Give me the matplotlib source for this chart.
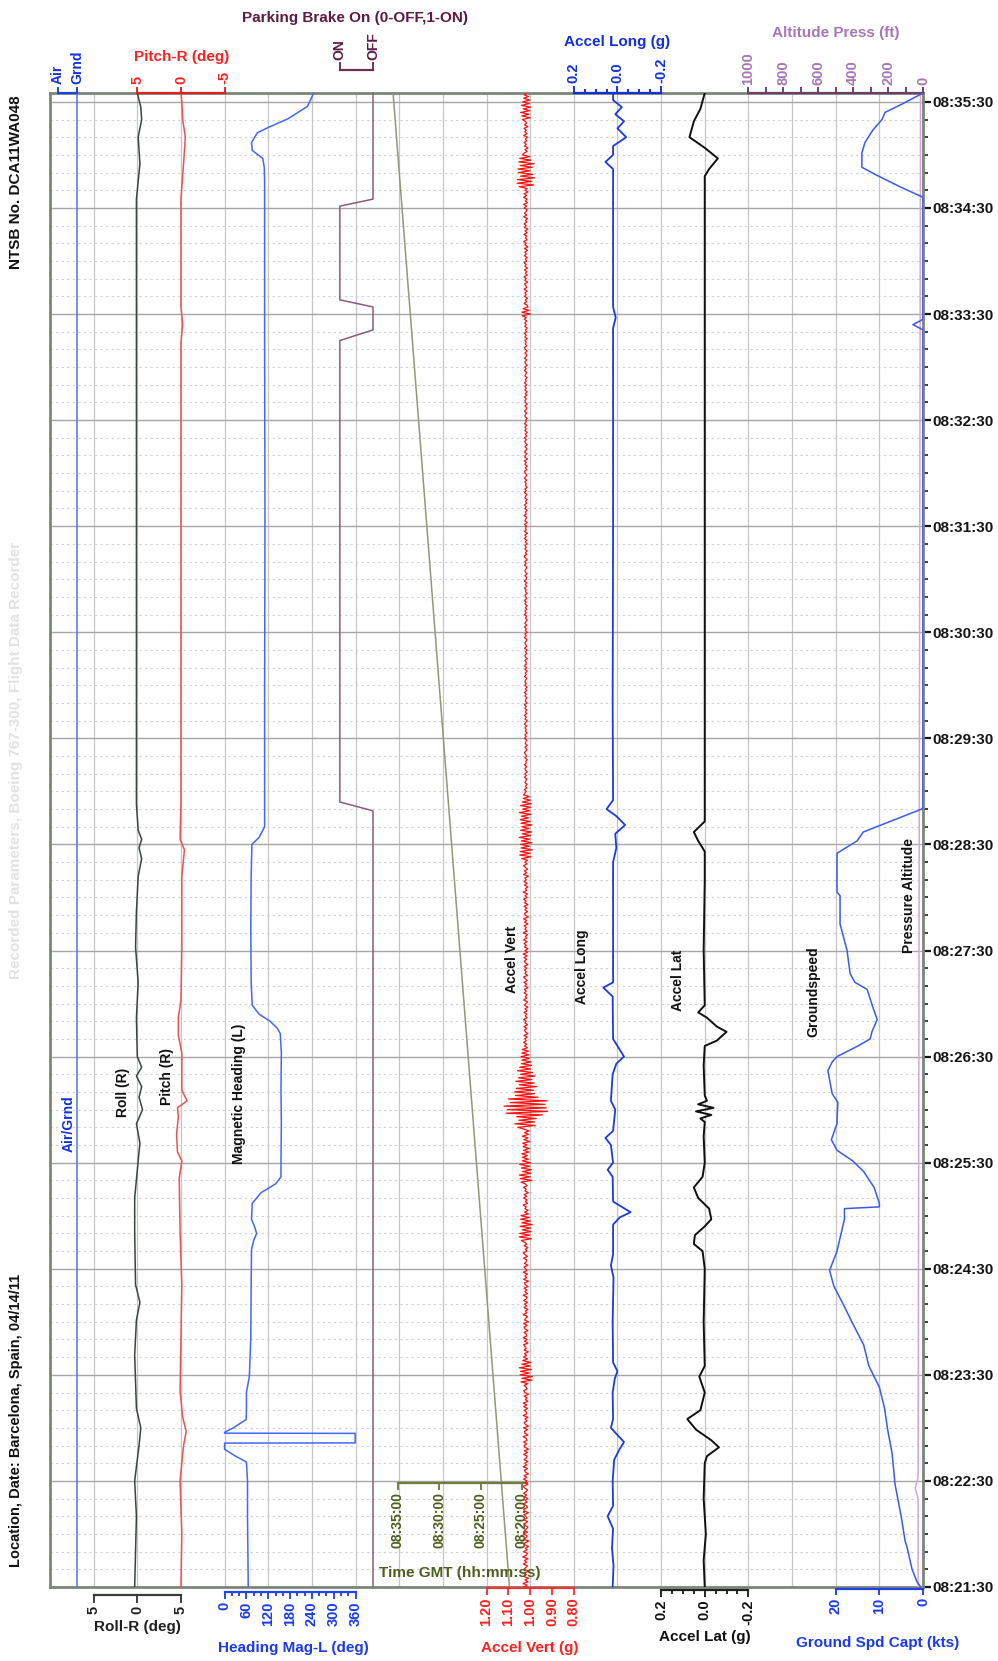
import numpy as np
import matplotlib
matplotlib.use("Agg")
import matplotlib.pyplot as plt

plt.rcParams['font.family'] = ['Liberation Sans', 'DejaVu Sans']
plt.rcParams['font.weight'] = 'bold'

# ---------------------------------------------------------------- data
# time in seconds after 08:21:30 (bottom of plot); top of plot ~08:35:35
T_END = 845
TIME_LABEL_T = [0, 60, 120, 180, 240, 300, 360, 420, 480, 540, 600, 660, 720, 780, 840]
TIME_LABELS = ['08:21:30', '08:22:30', '08:23:30', '08:24:30', '08:25:30', '08:26:30',
               '08:27:30', '08:28:30', '08:29:30', '08:30:30', '08:31:30', '08:32:30',
               '08:33:30', '08:34:30', '08:35:30']

AIRGND_T = [0, 845]
AIRGND = [1, 1]                       # 0 = Air, 1 = Grnd

ROLL_T = [0, 20, 40, 60, 80, 90, 101, 131, 151, 161, 171, 201, 220, 241, 251, 262, 270, 277,
          283, 289, 294, 300, 322, 342, 362, 382, 402, 412, 418, 423, 428, 443, 503, 604, 704,
          785, 805, 820, 830, 837, 845]
ROLL = [-0.3, -0.2, -0.1, -0.3, 0.2, 0.4, -0.1, -0.3, -0.1, 0.3, -0.2, -0.3, -0.3, 0.1, 0.3,
        -0.1, 0.6, 0.2, 0.5, -0.1, 0.5, 0.0, -0.1, 0.1, -0.2, -0.1, 0.1, 0.5, 0.2, 0.5, 0.1,
        -0.1, -0.1, -0.1, -0.1, -0.1, 0.3, 0.1, 0.5, 0.4, 0.0]

PITCH_T = [0, 30, 60, 80, 88, 96, 111, 141, 171, 201, 231, 241, 246, 256, 266, 271, 275, 281,
           302, 312, 322, 332, 362, 402, 417, 423, 443, 503, 604, 704, 714, 724, 785, 805, 820,
           830, 840, 845]
PITCH = [0.0, -0.1, 0.1, -0.3, -0.6, -0.2, 0.1, 0.0, -0.1, 0.1, 0.2, -0.1, 0.4, 0.5, 0.3, 0.4,
         -0.7, -0.1, -0.1, 0.3, 0.3, 0.0, -0.1, -0.1, -0.4, 0.1, 0.0, 0.0, 0.0, 0.0, -0.2, 0.0,
         0.0, -0.3, -0.5, -0.2, -0.1, 0.0]

HEADING_T = [0, 20, 40, 60, 70.7, 74, 77.9, 81.4, 81.5, 86.9, 87, 87.5, 89.9, 94.7, 100, 110,
             119, 141, 171, 191, 196, 200, 204, 208, 217, 223, 228, 232, 241, 262, 282, 302,
             313, 316, 320, 324, 329, 342, 372, 402, 420, 424, 430, 503, 604, 704, 795, 803,
             808, 812.5, 817, 822.5, 825.5, 830.5, 837.5, 845]
HEADING = [65, 64, 63, 63, 60, 30, 0, 0, 359, 359, 0, 0, 23, 59, 60, 60,
           68, 72, 73, 74, 80, 88, 82, 74, 76, 100, 140, 155, 155, 156, 155, 156,
           153, 145, 125, 95, 76, 73, 72, 73, 75, 95, 110, 110, 111, 110, 110, 109,
           105, 76, 74, 90, 120, 175, 228, 245]

BRAKE_T = [0, 439, 444, 705, 711, 724, 728, 781, 785, 845]
BRAKE = [0, 0, 1, 1, 0, 0, 1, 1, 0, 0]   # 0 = OFF, 1 = ON

CLOCK_T = [0, 845]
CLOCK = [30090, 30935]                # seconds of day (08:21:30 .. 08:35:35)
TIME_BAR_TICKS = [30900, 30600, 30300, 30000]
TIME_BAR_LABELS = ['08:35:00', '08:30:00', '08:25:00', '08:20:00']

# vertical acceleration: deviation from 1.02 g in counts of 0.002 g, one sample per second
ACCEL_VERT_BASE = 1.02
ACCEL_VERT_COUNT = 0.002
ACCEL_VERT_DEV = [
    4, -3, 6, -5, 2, -6, 5, -1, 3, -7, 4, 0, -4, 6, -2, 3, -5, 7, -1, -4,
    5, -3, 1, -6, 4, 2, -7, 5, -1, -3, 6, -4, 3, -2, -5, 4, 1, -4, 5, -3,
    0, 4, -6, 3, 5, -4, -1, 6, -3, 2, -5, 4, -2, 5, -1, -4, 3, 6, -5, 2,
    -3, 5, -2, 4, -6, 1, 3, -4, 6, -2, 2, -5, 4, -1, -3, 5, -4, 3, -6, 2,
    4, -2, 5, -3, -1, 6, -5, 2, 3, -4, 5, -6, 1, 4, -3, 2, -5, 6, -2, -1,
    3, -4, 5, -2, 6, -5, 1, -3, 4, -6, 2, 5, -3, -1, 4, -5,
    11, -14, 9, -15, 13, -8, 12, -13, 15, -10, 9, -12, 7,
    -4, 5, -2, 3, -6, 4, -1, 2, 5, -5, 3, -3, 6, -2, -1, 4, -5, 2, 4, -3,
    5, -6, 3, 0, -4, 6, -2, 1, -5, 4, -2, 3, -4, 5, -1, -3, 6, -4, 2, -2,
    4, -5, 1, 3, -6, 5, -2, 2, -4, 6, -3, 1, 4, -5, 3, -1, -2, 5, -4, 2, 6, -3, 1, -5, 4, -2, 3,
    10, -13, 15, -9, 14, -12, 8, -11, 13, -15, 9, -10, 12, -8, 11, -6,
    3, -5, 2, -1, 6, -4, 1, -3, 5, -2, 4, -6, 2, -1, 5, -3, 1,
    11, -14, 13, -10, 15, -12, 7, -13, 10, -9, 14, -11, 8,
    -6, 8, -4, 9, -7, 5, -8, 6, -3, 7, -9, 4, -5, 8, -6, 3, -7, 5,
    18, -22, 25, -20, 16, -24, 21,
    -38, 45, -50, 42, -47, 50, -44, 36, -49, 40,
    -28, 24, -20, 26, -18, 22, -25, 15, -19, 23, -14, 17, -21, 12, -16, 19, -11, 14, -13, 10,
    -12, 9, -8, 11, -7, 9, -6, 8,
    -4, 3, -2, 5, -1, 2, -3, 4, -5, 1, 3, -2, 4, -4, 2, -1, 5, -3, 1, -2,
    4, -3, 2, -5, 3, 0, -4, 5, -2, 1, -3, 4, -1, 3, -5, 2, -2, 4, -3, 1,
    5, -4, 2, -1, 3, -2, 4, -5, 1, 3, -2, 4, -3, 6, -4, 2, -5, 3, -1, 4,
    -3, 5, -2, 1, -4, 6, -3, 2, -1, 4, -5, 3, -2, 5, -6, 1, 3, -4, 2, -2,
    4, -5, 3, -1, 5, -3, 2, -4, 6, -2, 1, -5, 3, -3, 4, -1, 2, -6, 5, -2, 3, -4, 1, 5, -3, 2, -4,
    9, -12, 14, -10, 13, -15, 11, -8, 12, -14, 10, -9, 15, -11, 8, -13, 12, -7, 9, -14,
    11, -10, 13, -6, 10, -12, 15, -9, 7, -11, 12, -13, 8, -10, 6, -8, 5,
    2, -1, 3, -2, 1, -3, 2, 0, -2, 3, -1, 2, -3, 1, 2, -2, 3, -1, 0, -3,
    2, -2, 1, 3, -1, -2, 2, -3, 1, 0, -2, 3, -1, 2, -3, 1, -1, 2, -2, 3,
    0, -3, 2, -1, 3, -2, 1, -2, 2, -1, 3, -3, 1, 0, -2, 2, -1, 3, -2, 1,
    -3, 2, -1, 2, 0, -2, 3, -1, 1, -3, 2, -2, 3, -1, -1, 2, -3, 1, 2, -2,
    1, -3, 3, -2, 0, 2, -1, -2, 3, -1, 2, -3, 1, -1, 3, -2, 2, 0, -3, 1,
    -2, 3, -1, 2, -2, 1, -3, 2, -1, 3, -2, 0, 2, -3, 1, -1, 3, -2, 1, -2,
    3, -1, -2, 2, -3, 1, 2, -1, -2, 3, -1, 2, -3, 1, 4, -2, 1, -3, 2, -1,
    2, -3, 1, -2, 3, -1, 2, -4, 3, -1, 1, -2, 3, -3, 2, 0, -2, 4, -1, 1,
    -3, 2, -1, 3, -2, 1, -3, 2, 0, -2, 3, -1, 2, -3, 1, -1, 2, -2, 3, 0,
    -2, 1, 3, -2, 1, -3, 2, -1, 3, -4, 2, 1, -2, 3, -1, -2, 2, -3, 1, 2,
    -1, 3, -2, 1, -3, 2, -1, 2, -2, 3, -1, 0, -3, 2, 1, -2, 3, -1, -2, 2,
    -3, 1, 2, -1, 3, -2, 1, -3, 2, -1, 2, -2, 3, -1, 1, -3, 2, 0, -2, 3,
    -1, 2, -3, 1, 2, -2, 3, -1, -2, 2, -3, 1, 3, -2, 1, -1, 2, -3, 2, -1,
    3, -2, 1, -3, 2, -1, 2, -2, 3, -1,
    8, -10, 9, -7, 6, -5,
    -3, 4, -2, 1, -4, 3, -1, 2, -3, 4, -2, 0, 3, -4, 2, -1, 4, -3, 1, -2,
    3, -4, 2, -1, 4, -2, 1, -3, 3, -1, 2, -4, 3, -5, 2, -1, 5, -3, 1, -2,
    4, -3, 2, -5, 3, -1, 4, -2, 1, -4, 5, -2, 3, -1, -3, 4, -2, 5, -4, 1,
    -3, 5, -2, 4, -5, 2, -3,
    15, -18, 20, -14, 19, -20, 12, -16, 17, -10, 18, -15, 13, -19, 16, -12, 14, -9, 8,
    4, -3, 2, -5, 3, -1, 4, -2, 1, -4, 5, -3, 2, -1, 4, -5, 3, -2, 1,
    8, -10, 9, -7, 12, -9, 6, -11, 10, -8, 7, -9, 5, -6, 4, -2]

ACCEL_LONG_T = [0, 12, 22, 33, 40, 46, 60, 72, 78, 82, 86, 90, 95, 110, 118, 122, 127, 150, 175,
                182, 188, 205, 209, 212, 215, 218, 232, 236, 240, 250, 254, 258, 270, 275, 290,
                296, 300, 304, 310, 334, 339, 342, 380, 410, 418, 426, 431, 436, 440, 445, 500,
                600, 712, 718, 724, 790, 802, 806, 810, 815, 820, 825, 829, 833, 837, 841, 845]
ACCEL_LONG = [0.022, 0.018, 0.025, 0.020, 0.045, 0.020, 0.022, 0.015, -0.010, -0.030, 0.000,
              0.030, 0.020, 0.022, 0.012, 0.000, 0.020, 0.022, 0.018, 0.030, 0.020, 0.020,
              -0.010, -0.060, -0.020, 0.020, 0.022, 0.045, 0.020, 0.030, 0.055, 0.020, 0.010,
              0.030, 0.022, 0.005, -0.030, -0.010, 0.020, 0.022, 0.065, 0.020, 0.020, 0.020,
              0.005, 0.010, -0.035, 0.005, 0.050, 0.020, 0.022, 0.020, 0.020, 0.008, 0.020,
              0.020, 0.020, 0.055, 0.020, 0.020, -0.040, 0.000, -0.030, 0.010, -0.020, 0.020,
              0.020]

ACCEL_LAT_T = [0, 15, 30, 50, 70, 74, 79, 83, 89, 95, 100, 110, 119, 125, 150, 180, 190, 194,
               199, 204, 208, 214, 220, 226, 232, 240, 255, 263, 265, 267, 269, 271, 273, 275,
               278, 295, 306, 309, 314, 317, 322, 325, 329, 360, 400, 416, 422, 427, 433, 500,
               600, 700, 798, 802, 808, 814, 820, 829, 836, 845]
ACCEL_LAT = [0.000, 0.005, -0.005, 0.005, 0.000, -0.010, -0.065, -0.030, 0.040, 0.080, 0.020,
             0.000, 0.025, 0.000, 0.005, 0.000, 0.010, 0.050, 0.045, 0.000, -0.030, -0.020,
             0.030, 0.050, 0.010, 0.000, 0.005, 0.000, 0.020, -0.030, 0.040, -0.040, 0.030,
             -0.010, 0.000, 0.005, 0.000, -0.055, -0.100, -0.055, -0.010, 0.030, 0.000, 0.005,
             0.000, 0.000, 0.030, 0.050, 0.000, 0.000, 0.000, 0.000, 0.000, -0.020, -0.060,
             0.000, 0.070, 0.050, 0.020, 0.000]

GS_T = [0, 3, 10, 23, 26, 40, 58, 76, 89, 101, 113, 125, 137, 149, 161, 170, 179, 190, 208, 214,
        215, 217, 226, 235, 241, 247, 253, 262, 264, 274, 279, 292, 297, 300, 306, 310, 314, 321,
        328, 338, 342, 347, 360, 375, 391, 393, 415, 422, 427, 440, 441, 711, 714, 717, 786,
        792, 799, 803, 811, 817, 824, 830, 834, 839, 845]
GS = [0.5, 1.4, 2.5, 3.7, 4.1, 5.0, 6.4, 7.1, 8.1, 8.8, 10.0, 12.4, 13.6, 16.1, 18.5, 20.4, 21.4,
      19.7, 18.0, 18.0, 10.0, 10.0, 11.2, 13.6, 16.1, 19.7, 21.0, 19.7, 19.7, 19.5, 20.8, 21.8,
      20.8, 19.7, 14.9, 12.1, 11.7, 10.5, 11.5, 12.8, 15.6, 16.7, 17.4, 19.0, 19.0, 19.7, 19.7,
      15.1, 13.7, 0.3, 0.0, 0.0, 2.3, 0.0, 0.0, 5.3, 11.0, 14.0, 14.0, 13.3, 11.5, 9.4, 8.7,
      4.6, 0.0]

ALT_T = [0, 50, 56, 62, 845]
ALT = [28, 28, 45, 28, 14]

# ---------------------------------------------------------------- figure
W, H = 998, 1661
PL, PR, PT, PB = 50, 923, 93, 1587
fig = plt.figure(figsize=(W / 100, H / 100), dpi=100)
rect = [PL / W, 1 - PB / H, (PR - PL) / W, (PB - PT) / H]

ax = fig.add_axes(rect)
ax.set_xlim(0, 20)
ax.set_ylim(0, T_END)
ax.set_xticks(np.arange(0, 21))
ax.tick_params(axis='x', length=0, labelbottom=False)
ax.yaxis.tick_right()
ax.set_yticks(TIME_LABEL_T)
ax.set_yticklabels(TIME_LABELS)
ax.set_yticks(np.arange(0, T_END + 1, 10), minor=True)
ax.tick_params(axis='y', which='major', length=6, width=1.6, pad=1, labelsize=11,
               colors='#151515', direction='out')
ax.tick_params(axis='y', which='minor', length=3.5, width=1.3, color='#303030')
ax.grid(True, axis='x', color='#C6C6C6', lw=0.9)
ax.grid(True, axis='y', which='major', color='#A6A6A6', lw=1.0)
ax.grid(True, axis='y', which='minor', color='#D0D0D0', lw=0.8, ls=(0, (2, 3)))
for s in ax.spines.values():
    s.set_color('#7B867B')
    s.set_linewidth(2)


def lim(u0, k):
    return ((0 - u0) / k, (20 - u0) / k)


def overlay(u0, k):
    a = fig.add_axes(rect)
    a.patch.set_visible(False)
    for s in a.spines.values():
        s.set_visible(False)
    a.yaxis.set_visible(False)
    a.set_ylim(0, T_END)
    a.tick_params(axis='x', bottom=False, top=False, labelbottom=False, labeltop=False)
    a.set_xlim(*lim(u0, k))
    return a


def bar(a, side, lo, hi, major, labels, color, labcolor, minor=None, pos=0.0,
        tl=5, mtl=3, lw=1.6, fs=10.5, pad=2):
    xl = a.get_xlim()
    sp = a.spines[side]
    sp.set_visible(True)
    sp.set_color(color)
    sp.set_linewidth(lw)
    sp.set_bounds(min(lo, hi), max(lo, hi))
    sp.set_position(pos if isinstance(pos, tuple) else ('outward', pos))
    a.set_xticks(major)
    a.set_xticklabels(labels, rotation=90)
    if minor is not None:
        a.set_xticks(minor, minor=True)
    top = side == 'top'
    a.tick_params(axis='x', which='both', top=top, bottom=not top, labeltop=top,
                  labelbottom=not top, direction='out', color=color, width=lw * 0.85)
    a.tick_params(axis='x', which='major', length=tl, labelsize=fs, labelcolor=labcolor, pad=pad)
    a.tick_params(axis='x', which='minor', length=mtl)
    a.set_xlim(*xl)


LW = 1.1
# Air/Grnd
a = overlay(0.18, 0.44)
a.plot(AIRGND, AIRGND_T, color='#5070F0', lw=LW)
bar(a, 'top', 0, 1, [0, 1], ['Air', 'Grnd'], '#2040E0', '#1030E0', tl=4.5, fs=10)

# Roll
a = overlay(2.0, 0.2)
a.plot(ROLL, ROLL_T, color='#3A463A', lw=LW)
bar(a, 'bottom', -5, 5, [-5, 0, 5], ['5', '0', '5'], '#3A3A3A', '#202020', pos=5.8, tl=5.5)

# Pitch
a = overlay(3.0, -0.2)
a.plot(PITCH, PITCH_T, color='#F05050', lw=LW)
bar(a, 'top', 5, -5, [5, 0, -5], ['5', '0', '-5'], '#E02020', '#FF2020', tl=4.5)

# Heading
a = overlay(4.0, 1 / 120)
a.plot(HEADING, HEADING_T, color='#4466FF', lw=LW)
bar(a, 'bottom', 0, 360, list(range(0, 361, 60)), [str(v) for v in range(0, 361, 60)],
    '#2244EE', '#1A3AF0', minor=list(range(0, 361, 20)), pos=3.6, tl=5, mtl=3)

# Parking brake
a = overlay(7.40, -0.76)
a.plot(BRAKE, BRAKE_T, color='#8E5A7A', lw=LW)
bar(a, 'top', 1, 0, [1, 0], ['ON', 'OFF'], '#6A2E55', '#5C1A44', pos=16.6, tl=5.5, fs=10)

# Time GMT
kt = 0.0031567
a = fig.add_axes(rect)
a.patch.set_visible(False)
for s in a.spines.values():
    s.set_visible(False)
a.yaxis.set_visible(False)
a.set_ylim(0, T_END)
a.set_xlim(30900 + 7.97 / kt, 30900 - 12.03 / kt)
a.plot(CLOCK, CLOCK_T, color='#8F9A76', lw=LW)
bar(a, 'bottom', 29960, 30900, TIME_BAR_TICKS, TIME_BAR_LABELS, '#6E7E3A', '#4E5E1E',
    pos=('data', 59), tl=5, fs=10)

# Accel Vert
a = overlay(16.0, -5)
av_t = np.linspace(0, T_END, len(ACCEL_VERT_DEV))
av = ACCEL_VERT_BASE + np.array(ACCEL_VERT_DEV) * ACCEL_VERT_COUNT
a.plot(av, av_t, color='#FF1010', lw=0.9)
bar(a, 'bottom', 1.2, 0.8, [1.2, 1.1, 1.0, 0.9, 0.8], ['1.20', '1.10', '1.00', '0.90', '0.80'],
    '#FF3030', '#FF2020', pos=0.7, tl=5)

# Accel Long
a = overlay(13.0, -5)
a.plot(ACCEL_LONG, ACCEL_LONG_T, color='#1A3AE8', lw=1.3)
bar(a, 'top', 0.2, -0.2, [0.2, 0.0, -0.2], ['0.2', '0.0', '-0.2'], '#1030D8', '#1030E0',
    minor=[0.15, 0.1, 0.05, -0.05, -0.1, -0.15], tl=5, mtl=3)

# Accel Lat
a = overlay(15.0, -5)
a.plot(ACCEL_LAT, ACCEL_LAT_T, color='#101010', lw=1.4)
bar(a, 'bottom', 0.2, -0.2, [0.2, 0.0, -0.2], ['0.2', '0.0', '-0.2'], '#202020', '#101010',
    minor=[0.15, 0.1, 0.05, -0.05, -0.1, -0.15], pos=2.0, tl=5, mtl=3)

# Pressure altitude
a = overlay(20.0, -0.004)
a.plot(ALT, ALT_T, color='#D6A6DA', lw=LW)
bar(a, 'top', 1000, 0, list(range(1000, -1, -200)), [str(v) for v in range(1000, -1, -200)],
    '#6E3F64', '#A676B6', minor=list(range(900, 0, -200)), tl=4, mtl=4)

# Ground speed
a = overlay(20.0, -0.1)
a.plot(GS, GS_T, color='#3A5AF0', lw=LW)
bar(a, 'bottom', 20, 0, [20, 10, 0], ['20', '10', '0'], '#2040E8', '#1A3AF0', pos=1.5, tl=4.5)

# ---------------------------------------------------------------- text
def ftxt(x, y, s, **kw):
    fig.text(x / W, 1 - y / H, s, ha='center', va='center', **kw)


ftxt(355, 18, 'Parking Brake On (0-OFF,1-ON)', fontsize=11, color='#5C1A44')
ftxt(182, 57, 'Pitch-R (deg)', fontsize=11, color='#FF2020')
ftxt(617, 42, 'Accel Long (g)', fontsize=11, color='#1030E0')
ftxt(836, 33, 'Altitude Press (ft)', fontsize=11, color='#A676B6')
ftxt(137, 1627, 'Roll-R (deg)', fontsize=11, color='#202020')
ftxt(293, 1648, 'Heading Mag-L (deg)', fontsize=11, color='#1A3AF0')
ftxt(530, 1648, 'Accel Vert (g)', fontsize=11, color='#FF2020')
ftxt(705, 1637, 'Accel Lat (g)', fontsize=11, color='#101010')
ftxt(878, 1643, 'Ground Spd Capt (kts)', fontsize=11, color='#1A3AF0')
ftxt(460, 1573, 'Time GMT (hh:mm:ss)', fontsize=11, color='#4E5E1E')

ftxt(16, 182, 'NTSB No. DCA11WA048', fontsize=11, rotation=90, color='#111111')
ftxt(16, 1420, 'Location, Date: Barcelona, Spain, 04/14/11', fontsize=10.5, rotation=90,
     color='#111111')
ftxt(16, 760, 'Recorded Parameters, Boeing 767-300, Flight Data Recorder', fontsize=11,
     rotation=90, color='#E2E2E2')

in_plot = [
    (0.43, 262, 'Air/Grnd', '#1030E0'),
    (1.67, 280, 'Roll (R)', '#111111'),
    (2.69, 289, 'Pitch (R)', '#111111'),
    (4.34, 279, 'Magnetic Heading (L)', '#111111'),
    (10.58, 355, 'Accel Vert', '#111111'),
    (12.18, 351, 'Accel Long', '#111111'),
    (14.39, 343, 'Accel Lat', '#111111'),
    (17.49, 337, 'Groundspeed', '#111111'),
    (19.68, 391, 'Pressure Altitude', '#111111'),
]
for u, t, s, c in in_plot:
    ax.text(u, t, s, rotation=90, ha='center', va='center', fontsize=10, color=c)

fig.savefig('out.png', dpi=100)
